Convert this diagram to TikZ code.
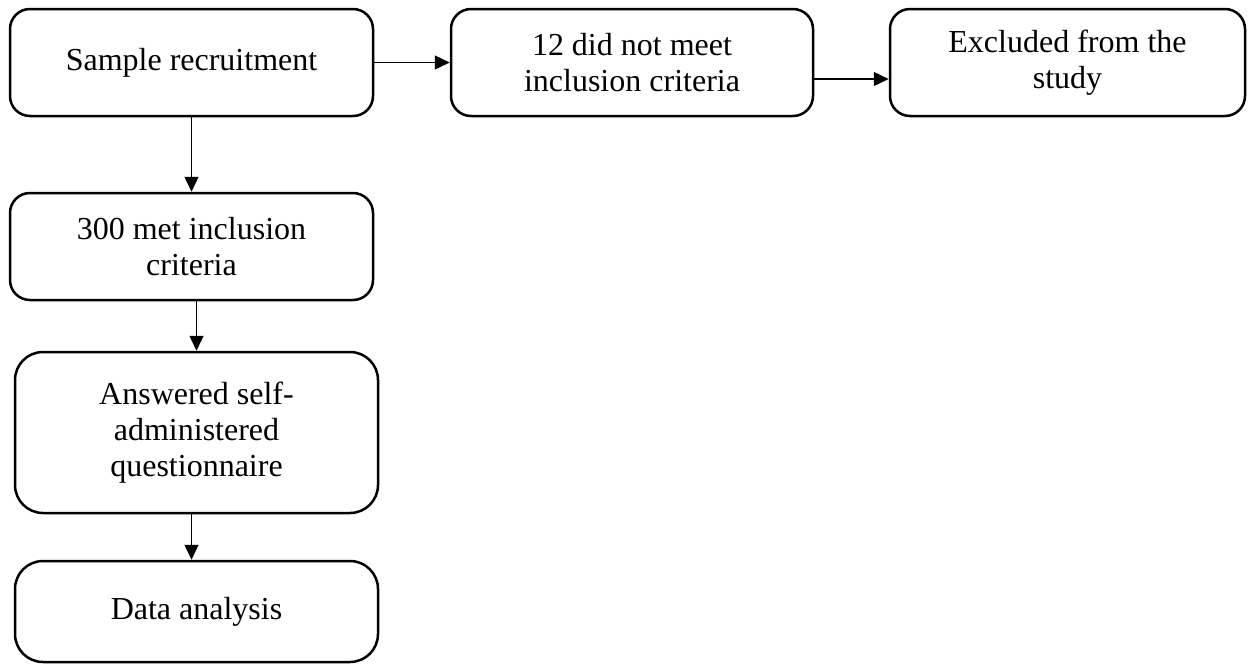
\documentclass[tikz,border=0pt]{standalone}
\usepackage{fontspec}
\setmainfont{Liberation Serif}
\usetikzlibrary{arrows.meta,calc}
\begin{document}
\begin{tikzpicture}[x=1pt,y=-1pt,
  box/.style={draw=black, line width=2.5pt, rounded corners=20pt, inner sep=0pt,
    minimum width=363pt, align=center, font=\fontsize{32}{36}\selectfont},
  conn/.style={line width=1.3pt, -{Triangle[length=15pt,width=14pt]}}]
\useasboundingbox (0,0) rectangle (1248,665);
\node[box, minimum height=107pt] (b1) at (191.5,62.5) {Sample recruitment};
\node[box, minimum height=107pt, minimum width=362pt] (b2) at (632,62.5) {12 did not meet\\inclusion criteria};
\node[box, minimum height=107pt, minimum width=355pt] (b3) at (1067.5,62.5) {Excluded from the\\study};
\node[box, minimum height=107pt] (b4) at (191.5,246.5) {300 met inclusion\\criteria};
\node[box, minimum height=161pt, rounded corners=28pt] (b5) at (196.5,432.5) {Answered self-\\administered\\questionnaire};
\node[box, minimum height=101pt, rounded corners=28pt] (b6) at (196.5,611.5) {Data analysis};
\coordinate (k2) at ($(b2.east)+(0,16.5)$);
\draw[conn] (b1.east) -- (b2.west);
\draw[conn] (k2) -- (k2 -| b3.west);
\draw[conn] (b1.south) -- (b4.north);
\draw[conn] (b4.south -| b5.north) -- (b5.north);
\draw[conn] (b5.south -| b1.south) -- (b6.north -| b1.south);
\end{tikzpicture}
\end{document}
